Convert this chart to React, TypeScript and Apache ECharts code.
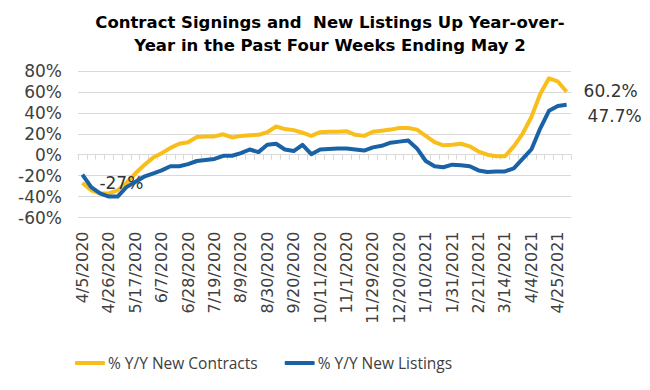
import React, { useEffect, useRef } from "react";
import * as echarts from "echarts";

const weeks: string[] = [
  "4/5/2020", "4/12/2020", "4/19/2020", "4/26/2020", "5/3/2020", "5/10/2020", "5/17/2020", "5/24/2020",
  "5/31/2020", "6/7/2020", "6/14/2020", "6/21/2020", "6/28/2020", "7/5/2020", "7/12/2020", "7/19/2020",
  "7/26/2020", "8/2/2020", "8/9/2020", "8/16/2020", "8/23/2020", "8/30/2020", "9/6/2020", "9/13/2020",
  "9/20/2020", "9/27/2020", "10/4/2020", "10/11/2020", "10/18/2020", "10/25/2020", "11/1/2020", "11/8/2020",
  "11/15/2020", "11/29/2020", "12/6/2020", "12/13/2020", "12/20/2020", "12/27/2020", "1/3/2021", "1/10/2021",
  "1/17/2021", "1/24/2021", "1/31/2021", "2/7/2021", "2/14/2021", "2/21/2021", "2/28/2021", "3/7/2021",
  "3/14/2021", "3/21/2021", "3/28/2021", "4/4/2021", "4/11/2021", "4/18/2021", "4/25/2021", "5/2/2021",
];

const newContracts: number[] = [
  -27, -34, -37, -37, -34, -27, -18, -10, -3, 1.5, 6.5, 10.5, 12, 17, 17.5, 17.5,
  19.5, 16.5, 18, 18.5, 19, 21.5, 27, 24.5, 23.5, 21, 18, 21.5, 22, 22, 22.5, 19,
  18, 22, 23, 24, 25.5, 25.5, 24, 18, 12, 9, 9.5, 10.5, 8, 3, 0, -1.5,
  -1.5, 8, 20, 36, 58, 73, 70, 60.2,
];

const newListings: number[] = [
  -19, -31, -37, -40, -40, -31, -26, -21, -18, -15, -11, -11, -9, -6, -5, -4,
  -1, -1, 1.5, 5, 2.5, 9.5, 10.5, 5, 3.5, 9.5, 0.5, 5, 5.5, 6, 6, 5,
  4, 7, 8.5, 11.5, 12.5, 13.5, 6, -6, -11, -12, -9.5, -10, -11, -15, -16.5, -16,
  -16, -13, -4, 5, 25, 42, 46.5, 47.7,
];

const yTicks = { min: -60, max: 80, interval: 20 };
const titleText = "Contract Signings and  New Listings Up Year-over-\nYear in the Past Four Weeks Ending May 2";
const seriesNames = ["% Y/Y New Contracts", "% Y/Y New Listings"];

const YELLOW = "#F8BE1B";
const BLUE = "#1A62A6";
const TEXT = "#404040";
const GRID = "#D9D9D9";

export default function App() {
  const ref = useRef<HTMLDivElement>(null);

  useEffect(() => {
    if (!ref.current) return;
    const chart = echarts.init(ref.current, undefined, { renderer: "svg" });
    const lastIdx = weeks.length - 1;

    const labelStyle = {
      show: true,
      formatter: "{c}%",
      color: "#333",
      fontSize: 17,
      fontFamily: "DejaVu Sans",
      position: "right" as const,
      distance: 17,
    };

    const contractsData = newContracts.map((v, i) => {
      if (i === 0 || i === lastIdx) {
        return { value: v, label: { ...labelStyle, offset: i === 0 ? [0, 0] : [0, -1] } };
      }
      return v;
    });
    const listingsData = newListings.map((v, i) => {
      if (i === lastIdx) {
        return { value: v, label: { ...labelStyle, offset: [4, 11] } };
      }
      return v;
    });

    chart.setOption({
      animation: false,
      backgroundColor: "#fff",
      title: {
        text: titleText,
        left: 330,
        textAlign: "center",
        top: 11,
        padding: 0,
        textStyle: {
          fontFamily: "DejaVu Sans",
          fontWeight: "bold",
          fontSize: 16.5,
          lineHeight: 23,
          color: "#000",
        },
      },
      legend: {
        left: 75,
        top: 355,
        padding: 0,
        itemGap: 27,
        itemWidth: 30,
        itemHeight: 4,
        icon: "roundRect",
        textStyle: { fontFamily: "Open Sans", fontSize: 15.5, color: TEXT, padding: [0, 0, 0, -2] },
        data: seriesNames,
      },
      grid: { left: 78, right: 79, top: 71, bottom: 172.5, containLabel: false },
      xAxis: [
        {
          type: "category",
          data: weeks,
          boundaryGap: true,
          position: "bottom",
          axisLine: { show: false, onZero: false },
          axisTick: { show: false },
          axisLabel: {
            interval: 2,
            rotate: 90,
            margin: 14,
            fontFamily: "DejaVu Sans",
            fontSize: 16,
            color: TEXT,
          },
          splitLine: { show: false },
        },
        {
          type: "category",
          data: weeks,
          boundaryGap: true,
          position: "bottom",
          axisLine: { show: true, onZero: true, lineStyle: { color: GRID, width: 1 } },
          axisTick: { show: true, interval: 0, length: 5, lineStyle: { color: GRID } },
          axisLabel: { show: false },
          splitLine: { show: false },
        },
      ],
      yAxis: {
        type: "value",
        min: yTicks.min,
        max: yTicks.max,
        interval: yTicks.interval,
        axisLine: { show: false },
        axisTick: { show: false },
        axisLabel: {
          formatter: "{value}%",
          margin: 16,
          fontFamily: "DejaVu Sans",
          fontSize: 17,
          color: TEXT,
        },
        splitLine: { lineStyle: { color: GRID, width: 1 } },
      },
      series: [
        {
          name: seriesNames[0],
          type: "line",
          data: contractsData,
          showSymbol: true,
          symbol: "circle",
          symbolSize: 0,
          lineStyle: { color: YELLOW, width: 4, join: "round" },
          itemStyle: { color: YELLOW },
          z: 2,
        },
        {
          name: seriesNames[1],
          type: "line",
          data: listingsData,
          showSymbol: true,
          symbol: "circle",
          symbolSize: 0,
          lineStyle: { color: BLUE, width: 4, join: "round" },
          itemStyle: { color: BLUE },
          z: 3,
        },
      ],
    });

    return () => chart.dispose();
  }, []);

  return (
    <div
      style={{
        position: "fixed",
        left: 0,
        top: 0,
        width: 650,
        height: 390,
        boxSizing: "border-box",
        border: "3px solid #DCDCDC",
        background: "#fff",
      }}
    >
      <div ref={ref} style={{ position: "absolute", left: -3, top: -3, width: 650, height: 390 }} />
    </div>
  );
}
